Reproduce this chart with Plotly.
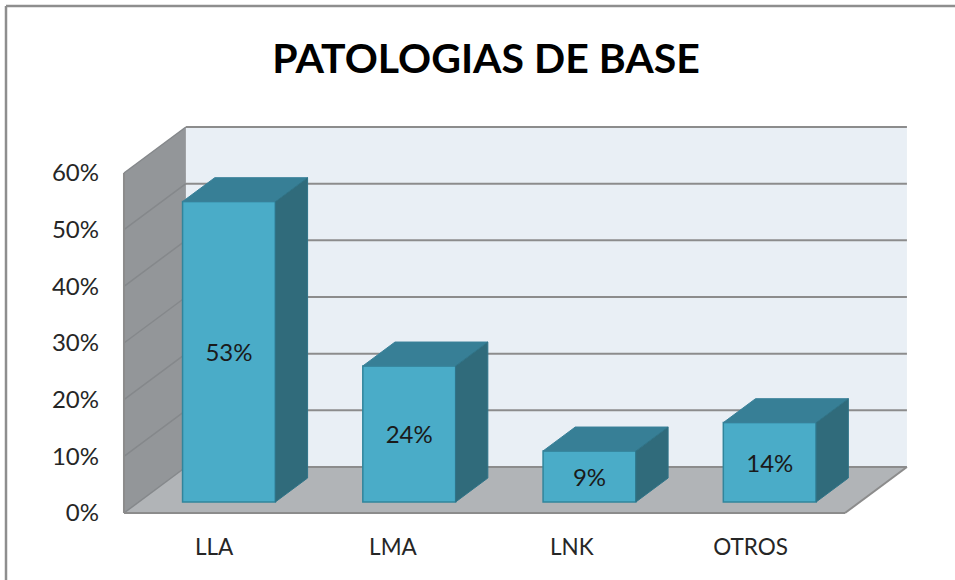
import plotly.graph_objects as go

categories = ["LLA", "LMA", "LNK", "OTROS"]
values = [53, 24, 9, 14]
y_ticks = [0, 10, 20, 30, 40, 50, 60]
y_labels = ["0%", "10%", "20%", "30%", "40%", "50%", "60%"]

FONT = "Lato"
TXT = "#262626"
FRONT, FRONT_LINE = "#4AACC8", "#31859C"
SIDE, TOP = "#306B7B", "#377F96"
WALL, FLOOR, BACK, GRID = "#939699", "#B1B4B7", "#E9EFF5", "#8C8C8C"

# oblique projection, in axis units
DX, DY = 0.3435, 8.12
X0, X1 = -0.5, 3.5
NEAR, FAR = 0.24, 0.76
BAR_W = 0.515

xs = list(range(len(categories)))
fig = go.Figure()

lift = NEAR * DY
fig.add_trace(go.Bar(
    x=[i + NEAR * DX for i in xs], y=values, base=[lift] * len(values), width=BAR_W,
    marker=dict(color=FRONT, line=dict(color=FRONT_LINE, width=1.5)),
    text=[f"{v}%" for v in values], textposition="inside", insidetextanchor="middle",
    textangle=0, constraintext="none",
    textfont=dict(family=FONT, size=24, color="#1A1A1A"), hoverinfo="skip",
))

ddx = (FAR - NEAR) * DX
ddy = (FAR - NEAR) * DY
for i, v in zip(xs, values):
    left = i + NEAR * DX - BAR_W / 2
    right = left + BAR_W
    top = lift + v
    fig.add_trace(go.Scatter(
        x=[left, right, right + ddx, left + ddx, left],
        y=[top, top, top + ddy, top + ddy, top],
        mode="lines", fill="toself", fillcolor=TOP,
        line=dict(color="#3A8199", width=1), hoverinfo="skip"))
    fig.add_trace(go.Scatter(
        x=[right, right + ddx, right + ddx, right, right],
        y=[lift, lift + ddy, top + ddy, top, lift],
        mode="lines", fill="toself", fillcolor=SIDE,
        line=dict(color="#2F7488", width=1), hoverinfo="skip"))

ymax = y_ticks[-1]
def poly(px, py):
    return "M" + " L".join(f"{a},{b}" for a, b in zip(px, py)) + " Z"

shapes = [
    dict(type="path", layer="below", xref="x", yref="y", line=dict(width=0), fillcolor=BACK,
         path=poly([X0 + DX, X1 + DX, X1 + DX, X0 + DX], [DY, DY, ymax + DY, ymax + DY])),
    dict(type="path", layer="below", xref="x", yref="y", line=dict(width=0), fillcolor=WALL,
         path=poly([X0, X0 + DX, X0 + DX, X0], [0, DY, ymax + DY, ymax])),
    dict(type="path", layer="below", xref="x", yref="y", line=dict(width=0), fillcolor=FLOOR,
         path=poly([X0, X1, X1 + DX, X0 + DX], [0, 0, DY, DY])),
]
for t in y_ticks:
    shapes.append(dict(type="line", layer="below", xref="x", yref="y", line=dict(color=GRID, width=2),
                       x0=X0 + DX, x1=X1 + DX, y0=t + DY, y1=t + DY))
    shapes.append(dict(type="line", layer="below", xref="x", yref="y",
                       line=dict(color="#85888B", width=1.5),
                       x0=X0, x1=X0 + DX, y0=t, y1=t + DY))
for seg in [((X0, 0), (X1, 0)), ((X1, 0), (X1 + DX, DY)), ((X0, 0), (X0, ymax))]:
    shapes.append(dict(type="line", layer="below", xref="x", yref="y", line=dict(color=GRID, width=2),
                       x0=seg[0][0], y0=seg[0][1], x1=seg[1][0], y1=seg[1][1]))

# chart border: top and left edges, given in paper fractions of the plot area
L, R, T, B = 122, 46, 125, 65
W, H = 955 - L - R, 580 - T - B
bx = (6 - L) / W
by = (580 - B - 6) / H
for x0, y0, x1, y1 in [(bx, by, (955 - L) / W, by), (bx, by, bx, -B / H)]:
    shapes.append(dict(type="line", xref="paper", yref="paper", layer="above",
                       line=dict(color="#8E8E8E", width=2.5), x0=x0, y0=y0, x1=x1, y1=y1))

fig.update_layout(
    width=955, height=580, autosize=False, showlegend=False, barmode="overlay",
    paper_bgcolor="white", plot_bgcolor="white",
    margin=dict(l=L, r=R, t=T, b=B, pad=0),
    title=dict(text="<b>PATOLOGIAS DE BASE</b>", x=486 / 955, xanchor="center",
               y=1 - 59 / 580, yanchor="middle",
               font=dict(family=FONT, size=41, color="#000000")),
    xaxis=dict(range=[-0.511, 3.855], tickmode="array", tickvals=[i * 0.992 for i in xs],
               ticktext=categories,
               showgrid=False, zeroline=False, showline=False, ticks="", ticklabelstandoff=16,
               tickfont=dict(family=FONT, size=22.5, color=TXT), fixedrange=True),
    yaxis=dict(range=[-0.353, 68.47], tickmode="array", tickvals=y_ticks, ticktext=y_labels,
               showgrid=False, zeroline=False, showline=False, ticks="", ticklabelstandoff=22,
               tickfont=dict(family=FONT, size=24, color=TXT), fixedrange=True),
    shapes=shapes,
)
fig.write_html("out.html", config={"displayModeBar": False, "responsive": False},
               post_script="document.body.style.margin='0';")
